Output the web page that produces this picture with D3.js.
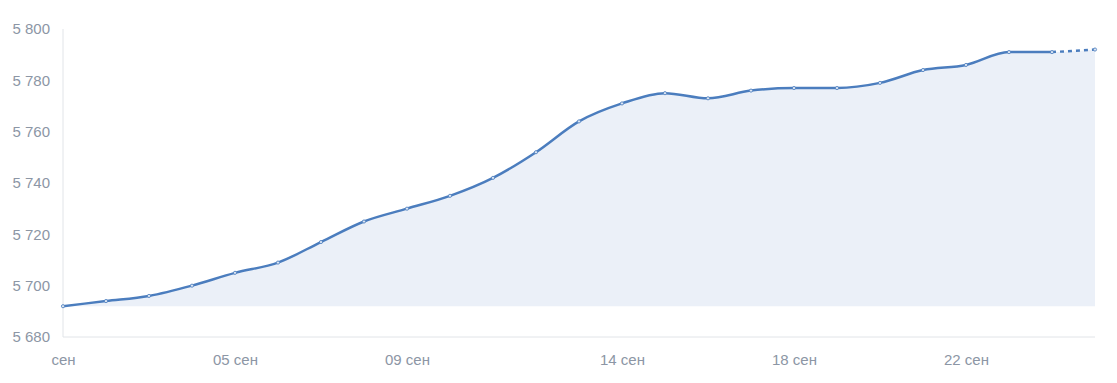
<!DOCTYPE html>
<html>
<head>
<meta charset="utf-8">
<script src="https://cdn.jsdelivr.net/npm/d3@7"></script>
<style>
  body { margin: 0; background: #fff; }
  svg text { font-family: "Liberation Sans", Arial, sans-serif; font-size: 15px; fill: #8c96a5; }
</style>
</head>
<body>
<svg id="chart" width="1117" height="383"></svg>
<script>
// days of september, one point per day
const days = d3.range(1, 26);
const values = [5692, 5694, 5696, 5700, 5705, 5709, 5717, 5725, 5730, 5735,
                5742, 5752, 5764, 5771, 5775, 5773, 5776, 5777, 5777, 5779,
                5784, 5786, 5791, 5791, 5792];
const tickDays = [1, 5, 9, 14, 18, 22];
const tickLabels = ["сен", "05 сен", "09 сен", "14 сен", "18 сен", "22 сен"];
const yTicks = [5680, 5700, 5720, 5740, 5760, 5780, 5800];

const svg = d3.select("#chart");
const margin = { top: 29, right: 22, bottom: 46, left: 63 };
const width = 1117 - margin.left - margin.right;
const height = 383 - margin.top - margin.bottom;

const x = d3.scaleLinear().domain([1, 25]).range([0, width]);
const y = d3.scaleLinear().domain([5680, 5800]).range([height, 0]);

const g = svg.append("g").attr("transform", `translate(${margin.left},${margin.top})`);

const data = days.map((d, i) => ({ day: d, v: values[i] }));
const base = d3.min(values);

// area under the line
g.append("path")
    .datum(data)
    .attr("fill", "#ebf0f8")
    .attr("d", d3.area()
        .curve(d3.curveMonotoneX)
        .x(d => x(d.day))
        .y0(y(base))
        .y1(d => y(d.v)));

// axis lines
g.append("line")
    .attr("x1", 0).attr("x2", 0)
    .attr("y1", 0).attr("y2", height)
    .attr("stroke", "#e1e4e8");
g.append("line")
    .attr("x1", 0).attr("x2", width)
    .attr("y1", height).attr("y2", height)
    .attr("stroke", "#e1e4e8");

const fmt = v => d3.format(",")(v).replace(",", " ");

// y labels
const yAxis = d3.axisLeft(y).tickValues(yTicks).tickSize(0).tickPadding(13).tickFormat(fmt);
g.append("g").call(yAxis).call(a => a.select(".domain").remove())
    .selectAll("text").attr("fill", null).style("font-size", "15px");

// x labels
const xAxis = d3.axisBottom(x).tickValues(tickDays).tickSize(0).tickPadding(17)
    .tickFormat((d, i) => tickLabels[i]);
g.append("g").attr("transform", `translate(0,${height})`).call(xAxis)
    .call(a => a.select(".domain").remove())
    .selectAll("text").attr("fill", null).style("font-size", "15px");

// solid line up to the second to last point, dotted to the last one
const line = d3.line().curve(d3.curveMonotoneX).x(d => x(d.day)).y(d => y(d.v));
g.append("path")
    .datum(data.slice(0, -1))
    .attr("fill", "none")
    .attr("stroke", "#4b7dbe")
    .attr("stroke-width", 2.5)
    .attr("d", line);
g.append("path")
    .datum(data.slice(-2))
    .attr("fill", "none")
    .attr("stroke", "#4b7dbe")
    .attr("stroke-width", 2.5)
    .attr("stroke-dasharray", "4 4")
    .attr("d", line);

// points
g.selectAll("circle.pt")
    .data(data)
    .join("circle")
    .attr("class", "pt")
    .attr("cx", d => x(d.day))
    .attr("cy", d => y(d.v))
    .attr("r", 1.6)
    .attr("fill", "#dbe5f3")
    .attr("stroke", "#4b7dbe")
    .attr("stroke-width", 0.8);
</script>
</body>
</html>
